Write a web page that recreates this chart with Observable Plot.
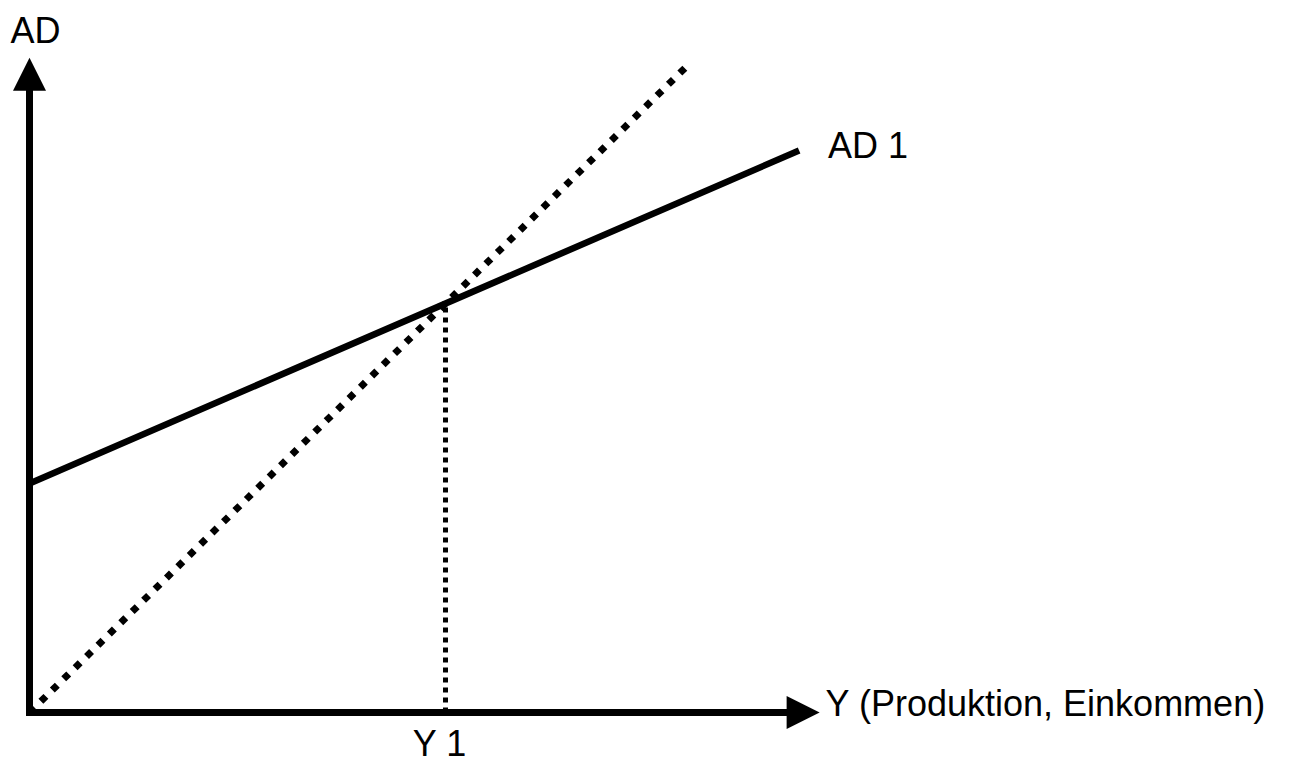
<!DOCTYPE html>
<html>
<head>
<meta charset="utf-8">
<script src="https://cdn.jsdelivr.net/npm/d3@7"></script>
<script src="https://cdn.jsdelivr.net/npm/@observablehq/plot@0.6"></script>
<style>
  html, body { margin: 0; padding: 0; background: #fff; }
  #chart svg { display: block; }
</style>
</head>
<body>
<div id="chart"></div>
<script>
// ---- data (model units) ----
const ad1X = [0, 18.5];          // AD 1 curve
const ad1Y = [5.6, 13.74];
const diagX = [0, 15.9];         // 45° line (Y = AD)
const diagY = [0, 15.9];
const eqX = [10, 10];            // Y 1 drop line
const eqY = [0, 10];
const axisXEnd = 18.2;           // end of horizontal axis
const axisYEnd = 15.2;           // end of vertical axis
const labelAD = ["AD"];
const labelAD1 = ["AD 1"];
const labelYAxis = ["Y (Produktion, Einkommen)"];
const labelY1 = ["Y 1"];

const pts = (xs, ys) => xs.map((x, i) => ({x, y: ys[i]}));

const arrowHead = {
  draw(ctx) {
    ctx.moveTo(-16.5, 0);
    ctx.lineTo(0, -33);
    ctx.lineTo(16.5, 0);
    ctx.closePath();
  }
};

const font = "Liberation Sans, Arial, Helvetica, sans-serif";

const chart = Plot.plot({
  width: 1302,
  height: 758,
  margin: 0,
  style: {background: "#fff", fontFamily: font},
  x: {domain: [0, 10], range: [29, 445], axis: null},
  y: {domain: [0, 10], range: [712, 303], axis: null},
  marks: [
    // dotted 45° line
    Plot.line(pts(diagX, diagY), {x: "x", y: "y", stroke: "#000", strokeWidth: 7, strokeDasharray: "7,9", strokeLinecap: "butt"}),
    // Y1 drop line
    Plot.line(pts(eqX, eqY), {x: "x", y: "y", stroke: "#000", strokeWidth: 5, strokeDasharray: "5,5", strokeLinecap: "butt"}),
    // AD 1
    Plot.line(pts(ad1X, ad1Y), {x: "x", y: "y", stroke: "#000", strokeWidth: 6.5, strokeLinecap: "butt"}),
    // axes
    Plot.line(pts([0, 0], [0, axisYEnd]), {x: "x", y: "y", stroke: "#000", strokeWidth: 7, strokeLinecap: "square"}),
    Plot.line(pts([0, axisXEnd], [0, 0]), {x: "x", y: "y", stroke: "#000", strokeWidth: 7, strokeLinecap: "square"}),
    // arrow heads
    Plot.dot([{x: 0, y: axisYEnd}], {x: "x", y: "y", symbol: arrowHead, fill: "#000", stroke: null}),
    Plot.dot([{x: axisXEnd, y: 0}], {x: "x", y: "y", symbol: arrowHead, rotate: 90, fill: "#000", stroke: null}),
    // labels
    Plot.text(labelAD, {x: () => 0, y: () => axisYEnd, text: d => d, dx: -19, dy: -48, textAnchor: "start", lineAnchor: "bottom", fontSize: 36, fill: "#000", fontFamily: font}),
    Plot.text(labelAD1, {x: () => ad1X[1], y: () => ad1Y[1], text: d => d, dx: 29, dy: 7, textAnchor: "start", lineAnchor: "bottom", fontSize: 36, fill: "#000", fontFamily: font}),
    Plot.text(labelYAxis, {x: () => axisXEnd, y: () => 0, text: d => d, dx: 39, dy: 3, textAnchor: "start", lineAnchor: "bottom", fontSize: 36, fill: "#000", fontFamily: font}),
    Plot.text(labelY1, {x: () => eqX[0], y: () => 0, text: d => d, dx: -6, dy: 43, textAnchor: "middle", lineAnchor: "bottom", fontSize: 36, fill: "#000", fontFamily: font})
  ]
});
document.getElementById("chart").appendChild(chart);
</script>
</body>
</html>
